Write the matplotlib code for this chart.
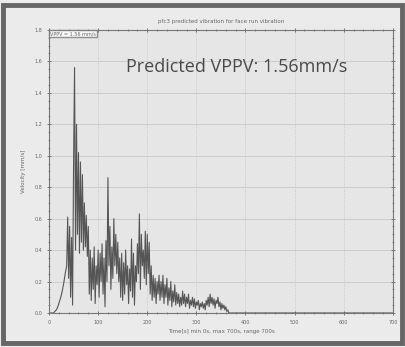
import matplotlib.pyplot as plt
from matplotlib.patches import Rectangle
from matplotlib.ticker import MultipleLocator

# time (s) and velocity (mm/s)
time = [0, 3, 6, 9, 12, 15, 18, 21, 24, 27,
        30, 33, 36, 38, 40, 42, 44, 46, 48, 50,
        52, 54, 56, 58, 60, 62, 64, 66, 68, 70,
        72, 74, 76, 78, 80, 82, 84, 86, 88, 90,
        92, 94, 96, 98, 100, 102, 104, 106, 108, 110,
        112, 114, 116, 118, 120, 122, 124, 126, 128, 130,
        132, 134, 136, 138, 140, 142, 144, 146, 148, 150,
        152, 154, 156, 158, 160, 162, 164, 166, 168, 170,
        172, 174, 176, 178, 180, 182, 184, 186, 188, 190,
        192, 194, 196, 198, 200, 202, 204, 206, 208, 210,
        212, 214, 216, 218, 220, 222, 224, 226, 228, 230,
        232, 234, 236, 238, 240, 242, 244, 246, 248, 250,
        252, 254, 256, 258, 260, 262, 264, 266, 268, 270,
        272, 274, 276, 278, 280, 282, 284, 286, 288, 290,
        292, 294, 296, 298, 300, 302, 304, 306, 308, 310,
        312, 314, 316, 318, 320, 322, 324, 326, 328, 330,
        332, 334, 336, 338, 340, 342, 344, 346, 348, 350,
        352, 354, 356, 358, 360, 362, 364, 366, 700]
velocity = [0.00, 0.00, 0.00, 0.00, 0.01, 0.02, 0.04, 0.07, 0.10, 0.14,
            0.19, 0.25, 0.30, 0.61, 0.22, 0.55, 0.10, 0.48, 0.05, 0.95,
            1.56, 0.40, 1.20, 0.50, 1.02, 0.38, 0.96, 0.45, 0.88, 0.40,
            0.70, 0.42, 0.62, 0.36, 0.55, 0.12, 0.40, 0.08, 0.35, 0.15,
            0.42, 0.06, 0.30, 0.18, 0.40, 0.10, 0.38, 0.20, 0.44, 0.12,
            0.35, 0.04, 0.46, 0.20, 0.86, 0.30, 0.55, 0.15, 0.42, 0.22,
            0.60, 0.30, 0.50, 0.25, 0.45, 0.20, 0.35, 0.10, 0.38, 0.08,
            0.32, 0.12, 0.40, 0.18, 0.30, 0.06, 0.28, 0.14, 0.47, 0.10,
            0.38, 0.05, 0.30, 0.20, 0.44, 0.25, 0.63, 0.15, 0.50, 0.30,
            0.40, 0.22, 0.52, 0.18, 0.50, 0.25, 0.45, 0.12, 0.30, 0.08,
            0.24, 0.10, 0.22, 0.06, 0.20, 0.12, 0.24, 0.08, 0.20, 0.10,
            0.24, 0.06, 0.18, 0.10, 0.22, 0.05, 0.16, 0.08, 0.20, 0.04,
            0.14, 0.07, 0.18, 0.05, 0.13, 0.06, 0.12, 0.04, 0.10, 0.05,
            0.14, 0.06, 0.12, 0.04, 0.10, 0.06, 0.12, 0.03, 0.08, 0.05,
            0.10, 0.04, 0.09, 0.03, 0.07, 0.05, 0.08, 0.02, 0.06, 0.04,
            0.07, 0.03, 0.06, 0.02, 0.08, 0.05, 0.10, 0.04, 0.12, 0.06,
            0.10, 0.05, 0.09, 0.03, 0.08, 0.06, 0.10, 0.04, 0.07, 0.02,
            0.06, 0.03, 0.05, 0.02, 0.04, 0.01, 0.02, 0.00, 0.00]

fig = plt.figure(figsize=(4.05, 3.47), dpi=100, facecolor="#ebebeb")
fig.patches.append(Rectangle((0.008, 0.012), 0.985, 0.975, transform=fig.transFigure,
                             fill=False, edgecolor="#666666", linewidth=3.5))

ax = fig.add_axes([0.121, 0.098, 0.849, 0.816], facecolor="#e6e6e6")
ax.plot(time, velocity, color="#555555", linewidth=0.8, label="VPPV = 1.56 mm/s")

ax.set_xlim(0, 700)
ax.set_ylim(0, 1.8)
ax.xaxis.set_major_locator(MultipleLocator(100))
ax.xaxis.set_minor_locator(MultipleLocator(20))
ax.yaxis.set_major_locator(MultipleLocator(0.2))
ax.yaxis.set_minor_locator(MultipleLocator(0.05))
ax.yaxis.set_major_formatter(lambda v, p: f"{v:.1f}")
ax.tick_params(which="both", direction="inout", top=True, right=True,
               labelsize=3.5, colors="#666666")
ax.tick_params(which="major", length=3, width=0.6)
ax.tick_params(which="minor", length=1.5, width=0.5)
ax.grid(axis="y", color="#c8c8c8", linewidth=0.6)
ax.grid(axis="x", color="#c0c0c0", linewidth=0.6, linestyle=":")
for s in ax.spines.values():
    s.set_color("#777777")
    s.set_linewidth(0.8)

ax.set_title("pfc3 predicted vibration for face run vibration", fontsize=4, color="#666666", pad=5)
ax.set_xlabel("Time[s] min 0s, max 700s, range 700s", fontsize=4, color="#666666", labelpad=3)
ax.set_ylabel("Velocity [mm/s]", fontsize=4, color="#666666", labelpad=6)
ax.legend(loc="upper left", fontsize=3.5, frameon=True, fancybox=False, edgecolor="#777777",
          handlelength=0, handletextpad=0, borderpad=0.2, borderaxespad=0.1, labelcolor="#666666")

ax.text(0.225, 0.85, "Predicted VPPV: 1.56mm/s", transform=ax.transAxes,
        fontsize=13, family="Open Sans", color="#4a4a4a")

fig.savefig("out.png", dpi=100, facecolor=fig.get_facecolor())
